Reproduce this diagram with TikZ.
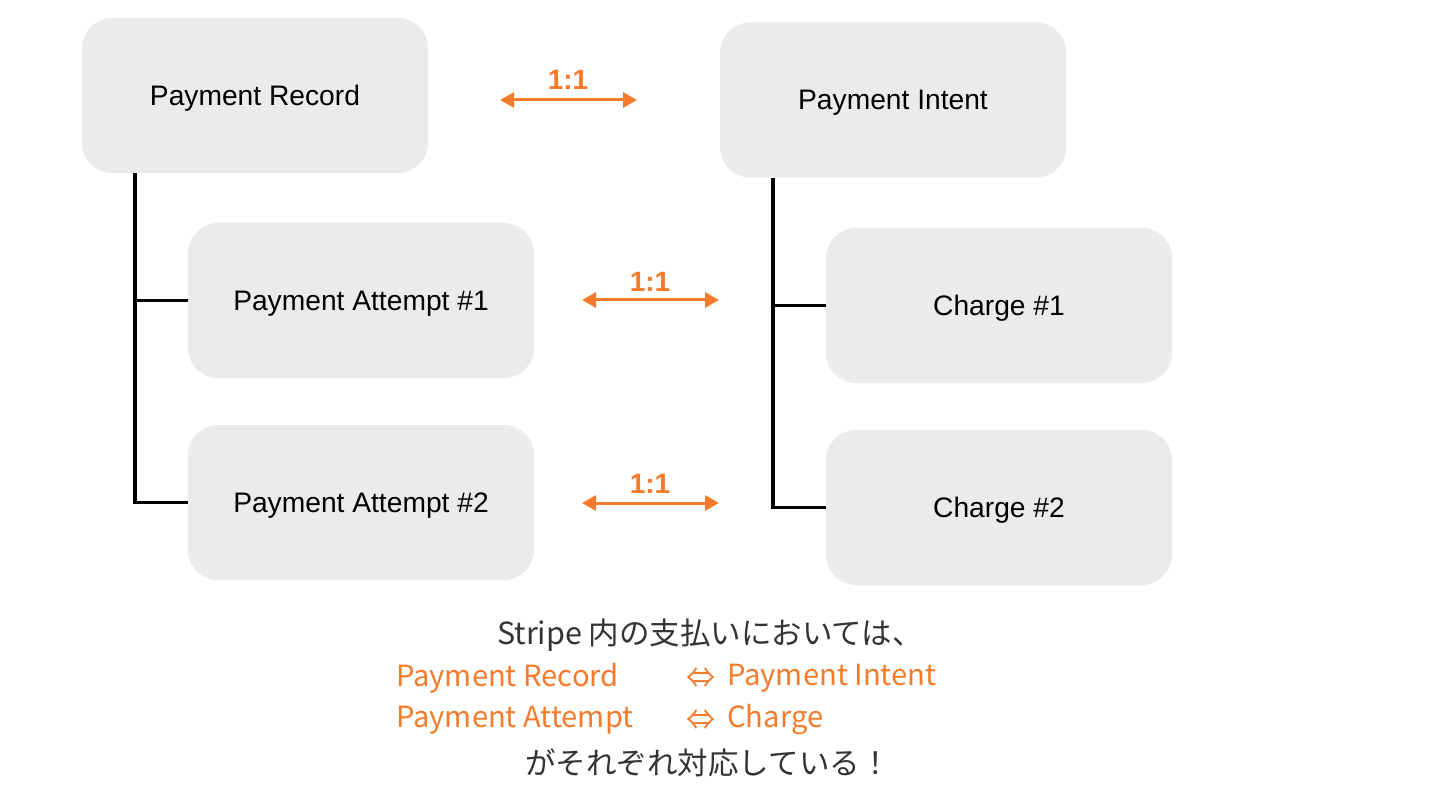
\documentclass[tikz,border=0pt]{standalone}
\usepackage{fontspec}
\setmainfont{Liberation Sans}
\newfontfamily\jpfont{Noto Sans CJK JP}
\usetikzlibrary{arrows.meta}
\definecolor{boxgray}{HTML}{EBEBEB}
\definecolor{accent}{HTML}{F37B2B}
\definecolor{darktext}{HTML}{333333}
\begin{document}
\begin{tikzpicture}[x=1pt,y=-1pt,
  entity/.style={rectangle, rounded corners=30pt, fill=boxgray, draw=none,
    minimum width=346pt, minimum height=155pt, inner sep=0pt, text depth=0pt,
    font=\fontsize{28.2}{32}\selectfont, text=black},
  tree/.style={line width=3.4pt, draw=black},
  rel/.style={line width=3pt, draw=accent, {Triangle[length=14pt,width=15pt]}-{Triangle[length=14pt,width=15pt]}},
  ratio/.style={font=\fontsize{28}{32}\selectfont\bfseries, text=accent},
  jp/.style={font=\jpfont\fontsize{30.5}{34}\selectfont, inner sep=0pt},
  jpo/.style={font=\jpfont\fontsize{29.2}{34}\selectfont, inner sep=0pt, text=accent, anchor=west}]
\useasboundingbox (0,0) rectangle (1440,810);
% boxes
\node[entity] (rec) at (255,95.5) {Payment Record};
\node[entity] (int) at (893,100) {Payment Intent};
\node[entity] (att1) at (361,300.5) {Payment Attempt \#1};
\node[entity] (att2) at (361,502.5) {Payment Attempt \#2};
\node[entity] (ch1) at (999,305.5) {Charge \#1};
\node[entity] (ch2) at (999,507.5) {Charge \#2};
% tree connectors
\draw[tree] ([xshift=53pt]rec.south west) |- (att1.west);
\draw[tree] ([xshift=53pt]rec.south west) |- (att2.west);
\draw[tree] ([xshift=53pt]int.south west) |- (ch1.west);
\draw[tree] ([xshift=53pt]int.south west) |- (ch2.west);
% relation arrows
\coordinate (r1a) at (500,100);
\coordinate (r1b) at (637,100);
\coordinate (r2a) at (582,300);
\coordinate (r2b) at (719,300);
\coordinate (r3a) at (582,503);
\coordinate (r3b) at (719,503);
\draw[rel] (r1a) -- (r1b);
\draw[rel] (r2a) -- (r2b);
\draw[rel] (r3a) -- (r3b);
\node[ratio] (l1) at (568,80) {1:1};
\node[ratio] (l2) at (650,282) {1:1};
\node[ratio] (l3) at (650,484) {1:1};
% bottom text
\node[jp, text=darktext] (t1) at (710,635) {Stripe 内の支払いにおいては、};
\node[jpo] (t2a) at (396,678) {Payment Record};
\node[jpo] (t2b) at (686,678) {⇔};
\node[jpo] (t2c) at (727,678) {Payment Intent};
\node[jpo] (t3a) at (396,720) {Payment Attempt};
\node[jpo] (t3b) at (686,720) {⇔};
\node[jpo] (t3c) at (727,720) {Charge};
\node[jp, text=darktext] (t4) at (708,763) {がそれぞれ対応している！};
\end{tikzpicture}
\end{document}
